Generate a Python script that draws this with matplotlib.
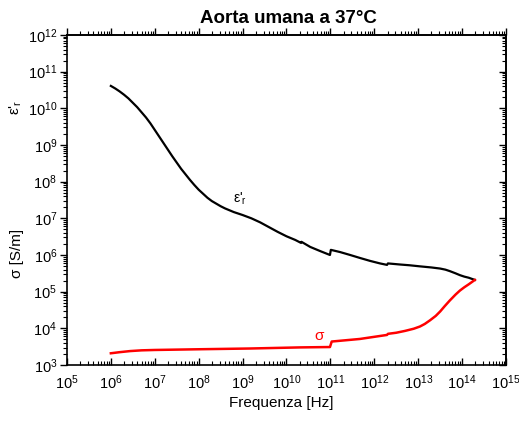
import numpy as np
import matplotlib
matplotlib.use("Agg")
import matplotlib.pyplot as plt
from matplotlib.ticker import LogLocator, NullFormatter

plt.rcParams['font.family'] = ['Liberation Sans', 'DejaVu Sans']
plt.rcParams['mathtext.fontset'] = 'custom'
plt.rcParams['mathtext.rm'] = 'Liberation Sans'
plt.rcParams['mathtext.it'] = 'Liberation Sans:italic'
plt.rcParams['mathtext.default'] = 'regular'

# log10 of frequency [Hz] and of epsilon'_r
eps_logf = [6.00, 6.10, 6.20, 6.30, 6.40, 6.50, 6.60, 6.70, 6.80, 6.90,
            7.00, 7.10, 7.20, 7.30, 7.40, 7.50, 7.60, 7.70, 7.80, 7.90,
            8.00, 8.10, 8.20, 8.30, 8.40, 8.50, 8.60, 8.70, 8.80, 8.90,
            9.00, 9.20, 9.40, 9.60, 9.80, 10.00, 10.20, 10.33, 10.34,
            10.54, 10.76, 10.99, 11.01, 11.22, 11.45, 11.67, 11.90, 12.13,
            12.29, 12.31, 12.59, 12.80, 13.04, 13.30, 13.50, 13.62, 13.72,
            13.85, 13.95, 14.05, 14.15, 14.29]
eps_logv = [10.61, 10.54, 10.46, 10.37, 10.27, 10.15, 10.03, 9.89, 9.75, 9.59,
            9.41, 9.23, 9.05, 8.87, 8.69, 8.52, 8.35, 8.20, 8.05, 7.91,
            7.78, 7.67, 7.56, 7.47, 7.40, 7.33, 7.27, 7.22, 7.17, 7.13,
            7.09, 7.00, 6.89, 6.76, 6.63, 6.51, 6.41, 6.33, 6.36,
            6.22, 6.11, 6.00, 6.14, 6.08, 6.00, 5.92, 5.84, 5.77,
            5.73, 5.77, 5.74, 5.72, 5.69, 5.66, 5.63, 5.60, 5.56,
            5.50, 5.45, 5.41, 5.38, 5.32]

# log10 of frequency [Hz] and of sigma [S/m]
sig_logf = [6.00, 6.20, 6.44, 6.70, 7.00, 8.03, 9.17, 10.31, 10.99, 11.03,
            11.67, 12.29, 12.31, 12.50, 12.70, 12.90, 13.04, 13.15, 13.27,
            13.40, 13.50, 13.60, 13.72, 13.85, 13.95, 14.05, 14.15, 14.29]
sig_logv = [3.32, 3.35, 3.38, 3.40, 3.41, 3.43, 3.45, 3.48, 3.49, 3.64,
            3.71, 3.82, 3.85, 3.88, 3.93, 3.99, 4.05, 4.12, 4.22,
            4.34, 4.46, 4.60, 4.76, 4.92, 5.03, 5.12, 5.20, 5.32]

fig = plt.figure(figsize=(5.19, 4.21), dpi=100)
ax = fig.add_axes([0.129, 0.133, 0.846, 0.784])

ax.plot(np.power(10.0, eps_logf), np.power(10.0, eps_logv), color='black', lw=1.6)
ax.plot(np.power(10.0, sig_logf), np.power(10.0, sig_logv), color='red', lw=1.8)

ax.set_xscale('log')
ax.set_yscale('log')
ax.set_xlim(1e5, 1e15)
ax.set_ylim(1e3, 1e12)

ax.xaxis.set_major_locator(LogLocator(base=10, numticks=20))
ax.yaxis.set_major_locator(LogLocator(base=10, numticks=20))
ax.xaxis.set_minor_locator(LogLocator(base=10, subs=np.arange(2, 10), numticks=20))
ax.yaxis.set_minor_locator(LogLocator(base=10, subs=np.arange(2, 10), numticks=20))
ax.xaxis.set_minor_formatter(NullFormatter())
ax.yaxis.set_minor_formatter(NullFormatter())

ax.tick_params(axis='x', which='major', direction='in', length=5, width=1, labelsize=10.5, pad=6)
ax.tick_params(axis='x', which='minor', direction='in', length=3, width=0.8)
ax.tick_params(axis='y', which='major', direction='out', length=5, width=1, labelsize=10.5, pad=2)
ax.tick_params(axis='y', which='minor', direction='out', length=3, width=0.8)
for s in ax.spines.values():
    s.set_linewidth(1.2)

# opposite axes with their own tick direction
top = ax.secondary_xaxis('top')
top.xaxis.set_major_locator(LogLocator(base=10, numticks=20))
top.xaxis.set_minor_locator(LogLocator(base=10, subs=np.arange(2, 10), numticks=20))
top.xaxis.set_minor_formatter(NullFormatter())
top.tick_params(which='major', direction='out', length=5, width=1, labeltop=False)
top.tick_params(which='minor', direction='out', length=3, width=0.8)
top.spines['top'].set_linewidth(1.2)

right = ax.secondary_yaxis('right')
right.yaxis.set_major_locator(LogLocator(base=10, numticks=20))
right.yaxis.set_minor_locator(LogLocator(base=10, subs=np.arange(2, 10), numticks=20))
right.yaxis.set_minor_formatter(NullFormatter())
right.tick_params(which='major', direction='in', length=5, width=1, labelright=False)
right.tick_params(which='minor', direction='in', length=3, width=0.8)
right.spines['right'].set_linewidth(1.2)

ax.set_xlabel('Frequenza [Hz]', fontsize=11, labelpad=4)
ax.xaxis.set_label_coords(0.488, -0.095)
fig.text(0.555, 0.957, 'Aorta umana a 37°C', fontsize=13.5, fontweight='bold',
         ha='center', va='center')

fig.text(0.030, 0.745, "ε'$_r$", rotation=90, fontsize=11, ha='center', va='center')
fig.text(0.032, 0.397, 'σ [S/m]', rotation=90, fontsize=11, ha='center', va='center')

ax.text(10 ** 8.94, 10 ** 7.53, "ε'$_r$", fontsize=10, ha='center', va='center')
ax.text(10 ** 10.74, 10 ** 3.79, 'σ', fontsize=11, color='red', ha='center', va='center')

fig.savefig('out.png', dpi=100)
